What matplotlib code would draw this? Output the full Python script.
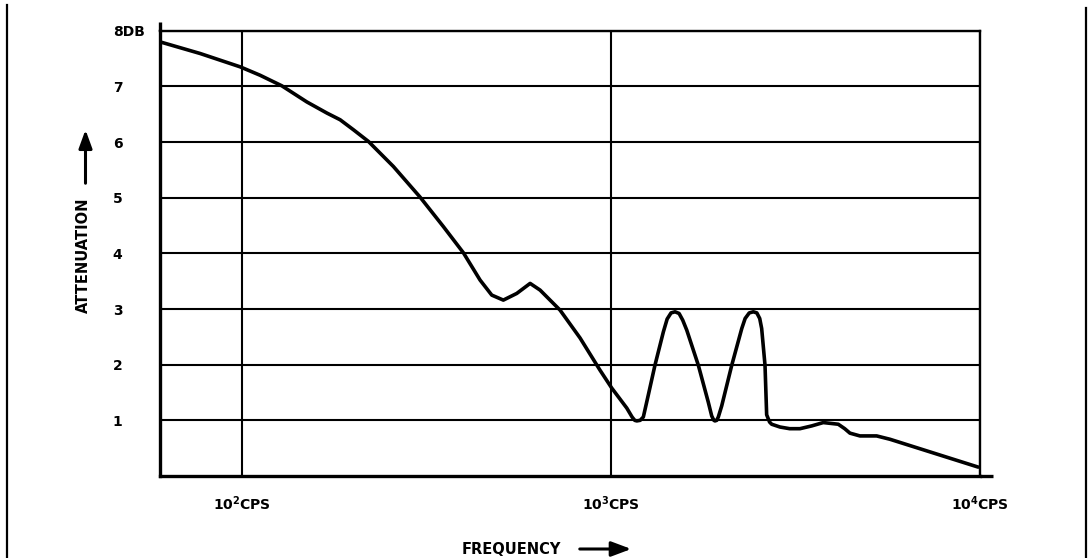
import matplotlib
matplotlib.use("Agg")
import matplotlib.pyplot as plt

# ---- data ----
freq_cps = [60.7, 77.1, 99, 112, 128.3, 150, 170, 184.6, 200.6, 220.3, 257.4, 304, 351.6,
            398.3, 442, 475.4, 511, 555.7, 604, 642.7, 728, 824.7, 934.3, 1005, 1104,
            1141, 1160, 1175, 1200, 1224, 1263, 1316, 1387, 1420, 1455, 1492, 1530, 1565,
            1605, 1725, 1835, 1875, 1900, 1914, 1935, 1954, 1996, 2125, 2262, 2310, 2370,
            2431, 2485, 2530, 2561, 2615, 2642, 2690, 2726, 2871, 3050, 3252, 3500, 3761,
            4130, 4300, 4442, 4728, 5248, 5702, 9886]
atten_db = [7.79, 7.59, 7.35, 7.20, 7.01, 6.72, 6.52, 6.40, 6.22, 6.01, 5.56, 5.01, 4.48,
            4.01, 3.52, 3.25, 3.16, 3.28, 3.46, 3.34, 2.98, 2.48, 1.90, 1.58, 1.22,
            1.06, 1.0, 0.99, 1.0, 1.06, 1.46, 1.99, 2.59, 2.82, 2.93, 2.95, 2.92, 2.80,
            2.62, 1.99, 1.33, 1.08, 1.0, 0.99, 1.0, 1.06, 1.26, 1.99, 2.65, 2.83, 2.93,
            2.95, 2.93, 2.83, 2.65, 1.99, 1.10, 0.97, 0.93, 0.88, 0.85, 0.85, 0.90, 0.96,
            0.93, 0.85, 0.77, 0.72, 0.72, 0.66, 0.16]

x_ticks = [100, 1000, 10000]
x_tick_labels = [r'$\mathbf{10^{2}CPS}$', r'$\mathbf{10^{3}CPS}$', r'$\mathbf{10^{4}CPS}$']
y_ticks = [1, 2, 3, 4, 5, 6, 7, 8]
y_tick_labels = ['1', '2', '3', '4', '5', '6', '7', '8DB']
x_limits = (60, 10000)
y_limits = (0, 8)

plt.rcParams['font.family'] = ['DejaVu Sans']
plt.rcParams['mathtext.fontset'] = 'dejavusans'

W, H = 1088, 558
fig = plt.figure(figsize=(W / 100, H / 100), dpi=100)
fig.patch.set_facecolor('white')

ax_l, ax_r, ax_t, ax_b = 160, 980, 30.7, 476
ax = fig.add_axes([ax_l / W, (H - ax_b) / H, (ax_r - ax_l) / W, (ax_b - ax_t) / H])

ax.set_xscale('log')
ax.set_xlim(*x_limits)
ax.set_ylim(*y_limits)

ax.plot(freq_cps, atten_db, color='black', lw=2.6, solid_capstyle='round',
        solid_joinstyle='round', zorder=3)

ax.set_xticks(x_ticks)
ax.set_xticklabels(x_tick_labels, fontsize=10)
ax.minorticks_off()
ax.set_yticks(y_ticks)
ax.set_yticklabels(y_tick_labels, fontsize=10, fontweight='bold')
ax.tick_params(axis='x', length=0, pad=13)
ax.tick_params(axis='y', length=0, pad=34)
for lab in ax.get_yticklabels():
    lab.set_horizontalalignment('left')

ax.grid(True, color='black', lw=1.5)
ax.set_axisbelow(True)

for s in ['left', 'bottom']:
    ax.spines[s].set_linewidth(2.4)
for s in ['top', 'right']:
    ax.spines[s].set_linewidth(1.7)

# spine extensions
ax.plot([0, 0], [1, 1.02], transform=ax.transAxes, color='black', lw=2.4,
        clip_on=False, solid_capstyle='butt')
ax.plot([1, 1.016], [0, 0], transform=ax.transAxes, color='black', lw=2.4,
        clip_on=False, solid_capstyle='butt')

# axis titles with arrows
fig.text(83 / W, 1 - 255 / H, 'ATTENUATION', rotation=90, ha='center', va='center',
         fontsize=10.5, fontweight='bold')
fig.add_artist(matplotlib.patches.FancyArrowPatch(
    (85.5 / W, 1 - 186 / H), (85.5 / W, 1 - 127 / H), transform=fig.transFigure,
    arrowstyle='-|>,head_length=11,head_width=4', color='black', lw=2.2,
    mutation_scale=1))
fig.text(511 / W, 1 - 549 / H, 'FREQUENCY', ha='center', va='center',
         fontsize=10.5, fontweight='bold')
fig.add_artist(matplotlib.patches.FancyArrowPatch(
    (577 / W, 1 - 549 / H), (634 / W, 1 - 549 / H), transform=fig.transFigure,
    arrowstyle='-|>,head_length=12,head_width=4.5', color='black', lw=2.2,
    mutation_scale=1))

# page borders
fig.add_artist(matplotlib.lines.Line2D([7 / W, 7 / W], [0, 1 - 5 / H], color='black', lw=1.6))
fig.add_artist(matplotlib.lines.Line2D([1086 / W, 1086 / W], [0, 1 - 8 / H], color='black', lw=1.6))

fig.savefig('out.png', dpi=100, facecolor='white')
